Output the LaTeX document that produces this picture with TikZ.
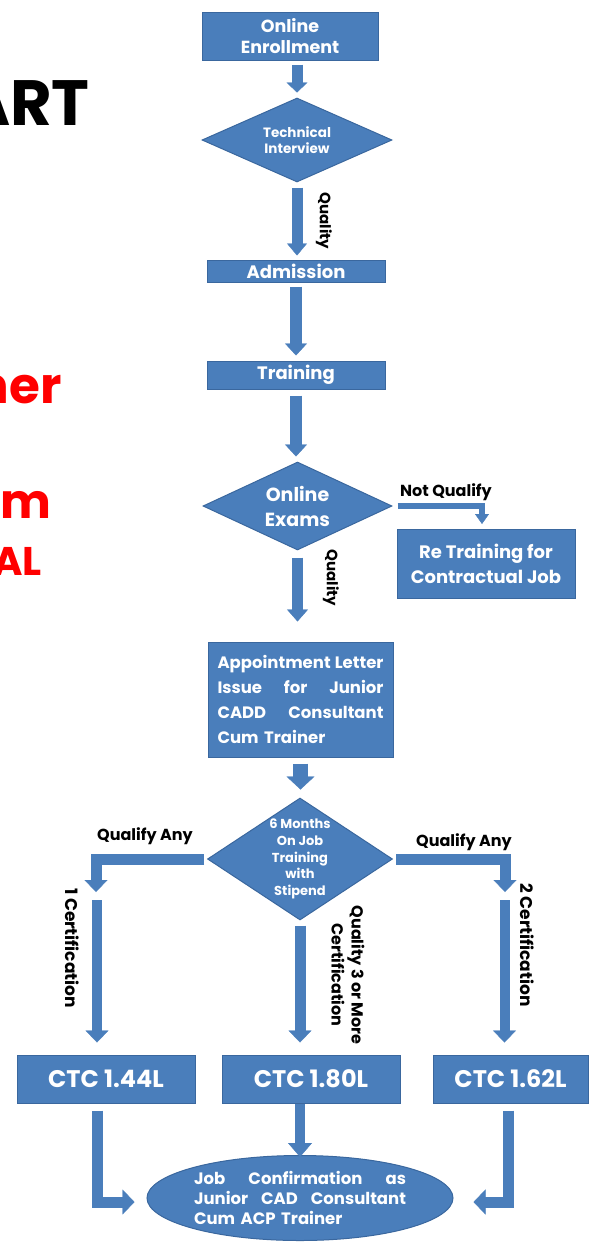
\documentclass[tikz,border=0pt]{standalone}
\usepackage{fontspec}
\setmainfont{Poppins}
\usetikzlibrary{shapes.geometric,arrows.meta,calc}
\definecolor{boxblue}{HTML}{4A7EBB}
\definecolor{boxline}{HTML}{3A679E}
\newcommand\fsz[2]{\fontsize{#1}{#2}\selectfont}
\begin{document}
\begin{tikzpicture}[x=1pt,y=-1pt,
  box/.style={rectangle, fill=boxblue, draw=boxline, line width=1pt, text=white, inner sep=0pt, align=center},
  dia/.style={diamond, fill=boxblue, draw=boxline, line width=1pt, inner sep=0pt},
  wtxt/.style={text=white, inner sep=0pt, align=center},
  lbl/.style={text=black, inner sep=0pt, align=center},
  barrow/.style n args={3}{draw=boxblue, line width=#1, -{Triangle[width=#2, length=#3, line width=0.4pt]}}
]
\useasboundingbox (0,0) rectangle (590,1242);
% left page fragments
\node[anchor=base east, inner sep=0pt, font=\fsz{64}{64}\bfseries] (ttl) at (90,125) {ART};
\node[anchor=base east, inner sep=0pt, text=red, font=\fsz{50}{50}\bfseries] (r1) at (62,403) {ner};
\node[anchor=base east, inner sep=0pt, text=red, font=\fsz{48}{48}\bfseries] (r2) at (52,518) {um};
\node[anchor=base east, inner sep=0pt, text=red, font=\fsz{40}{40}\bfseries] (r3) at (42,575) {AL};

% nodes
\node[box, minimum width=176, minimum height=48, font=\fsz{17.5}{21}\bfseries] (enroll) at (290,36) {Online\\Enrollment};
\node[dia, minimum width=190, minimum height=84] (tech) at (297,140) {};
\node[wtxt, font=\fsz{13.5}{16}\bfseries] (techt) at (tech) {Technical\\Interview};
\node[box, minimum width=178, minimum height=22, font=\fsz{18}{20}\bfseries] (adm) at (296,271) {Admission};
\node[box, minimum width=178, minimum height=28, font=\fsz{18}{20}\bfseries] (train) at (296,375) {Training};
\node[dia, minimum width=189, minimum height=88] (exam) at (297.5,506) {};
\node[wtxt, font=\fsz{19}{25}\bfseries] (examt) at (exam) {Online\\Exams};
\node[box, minimum width=178, minimum height=69, font=\fsz{18}{25}\bfseries] (retrain) at (486,563.5) {Re Training for\\Contractual Job};
\node[box, minimum width=185, minimum height=115, text width=166, align=left, font=\fsz{16.5}{25}\bfseries] (appt) at (300.5,699.5)
  {Appointment\hfill Letter\\Issue\hfill for\hfill Junior\\CADD\hfill Consultant\\Cum Trainer};
\node[dia, minimum width=185, minimum height=122] (six) at (300,859) {};
\node[wtxt, font=\fsz{13}{16.7}\bfseries] (sixt) at (six) {6 Months\\On Job\\Training\\with\\Stipend};
\node[box, minimum width=178, minimum height=48, font=\fsz{24}{24}\bfseries] (ctc1) at (106,1079) {CTC 1.44L};
\node[box, minimum width=178, minimum height=48, font=\fsz{24}{24}\bfseries] (ctc2) at (311,1079) {CTC 1.80L};
\node[box, minimum width=155, minimum height=48, font=\fsz{24}{24}\bfseries] (ctc3) at (510.5,1079) {CTC 1.62L};
\node[ellipse, fill=boxblue, draw=boxline, line width=1pt, minimum width=306, minimum height=85, inner sep=0pt] (conf) at (300,1198) {};
\node[wtxt, text width=212, align=left, font=\fsz{16.5}{20}\bfseries] (conft) at (conf)
  {Job\hfill Confirmation\hfill as\\Junior\hfill CAD\hfill Consultant\\Cum ACP Trainer};

% free-end coordinates
\coordinate (nq) at (482,524);
\coordinate (lb) at (96,892);
\coordinate (ls) at (97,900);
\coordinate (rb) at (505,892);
\coordinate (rs) at (504.5,900);

% arrows
\draw[barrow={11}{21}{10}] ([yshift=-4pt]tech.north |- enroll.south) -- ([yshift=5pt]tech.north);
\draw[barrow={11}{20}{12}] ([yshift=-5pt]tech.south) -- ([yshift=4pt]tech.south |- adm.north);
\draw[barrow={12}{22}{12}] ([yshift=-4pt]adm.south) -- ([yshift=5pt]train.north);
\draw[barrow={12}{22}{12}] ([yshift=-6pt]train.south) -- ([yshift=5pt]train.south |- exam.north);
\draw[barrow={11}{21}{12}] ([yshift=-7pt]exam.south) -- ([yshift=20pt]exam.south |- appt.north);
\draw[barrow={6}{14}{10}] ([xshift=5pt]exam.east) -| (nq);
\draw[barrow={15}{28}{13}] ([yshift=-6pt]appt.south) -- ([yshift=8pt]appt.south |- six.north);
\draw[barrow={11}{23}{12}] ([xshift=-3pt]six.west) -| (lb);
\draw[barrow={10}{23}{12}] (ls) -- ([yshift=12pt]ls |- ctc1.north);
\draw[barrow={11}{23}{12}] ([yshift=-5pt]six.south) -- ([yshift=12pt]six.south |- ctc2.north);
\draw[barrow={11}{23}{12}] ([xshift=3pt]six.east) -| (rb);
\draw[barrow={10}{23}{12}] (rs) -- ([yshift=12pt]rs |- ctc3.north);
\draw[barrow={11}{25}{12}] ([xshift=-8.5pt,yshift=-7pt]ctc1.south) |- ([xshift=-12pt,yshift=-4pt]conf.west);
\draw[barrow={10}{24}{14}] (ctc2.south -| conf.north) -- ([yshift=-2pt]conf.north);
\draw[barrow={11}{25}{12}] ([xshift=-2.5pt,yshift=-7pt]ctc3.south) |- ([xshift=20pt,yshift=-4pt]conf.east);

% labels
\node[lbl, rotate=-90, font=\fsz{15}{15}\bfseries] (q1) at (324,221) {Quality};
\node[lbl, rotate=-90, font=\fsz{15}{15}\bfseries] (q2) at (331,578) {Quality};
\node[lbl, font=\fsz{16}{16}\bfseries] (nql) at (446,492) {Not Qualify};
\node[lbl, font=\fsz{16}{16}\bfseries] (qa1) at (145,836) {Qualify Any};
\node[lbl, font=\fsz{16}{16}\bfseries] (qa2) at (464,842) {Qualify Any};
\node[lbl, rotate=-90, font=\fsz{17}{17}\bfseries] (c1) at (72,948) {1 Certification};
\node[lbl, rotate=-90, font=\fsz{17}{17}\bfseries] (c2) at (527,945) {2 Certification};
\node[lbl, rotate=-90, font=\fsz{16}{20}\bfseries] (c3) at (348,975) {Quality 3 or More\\Certification};
\end{tikzpicture}
\end{document}
